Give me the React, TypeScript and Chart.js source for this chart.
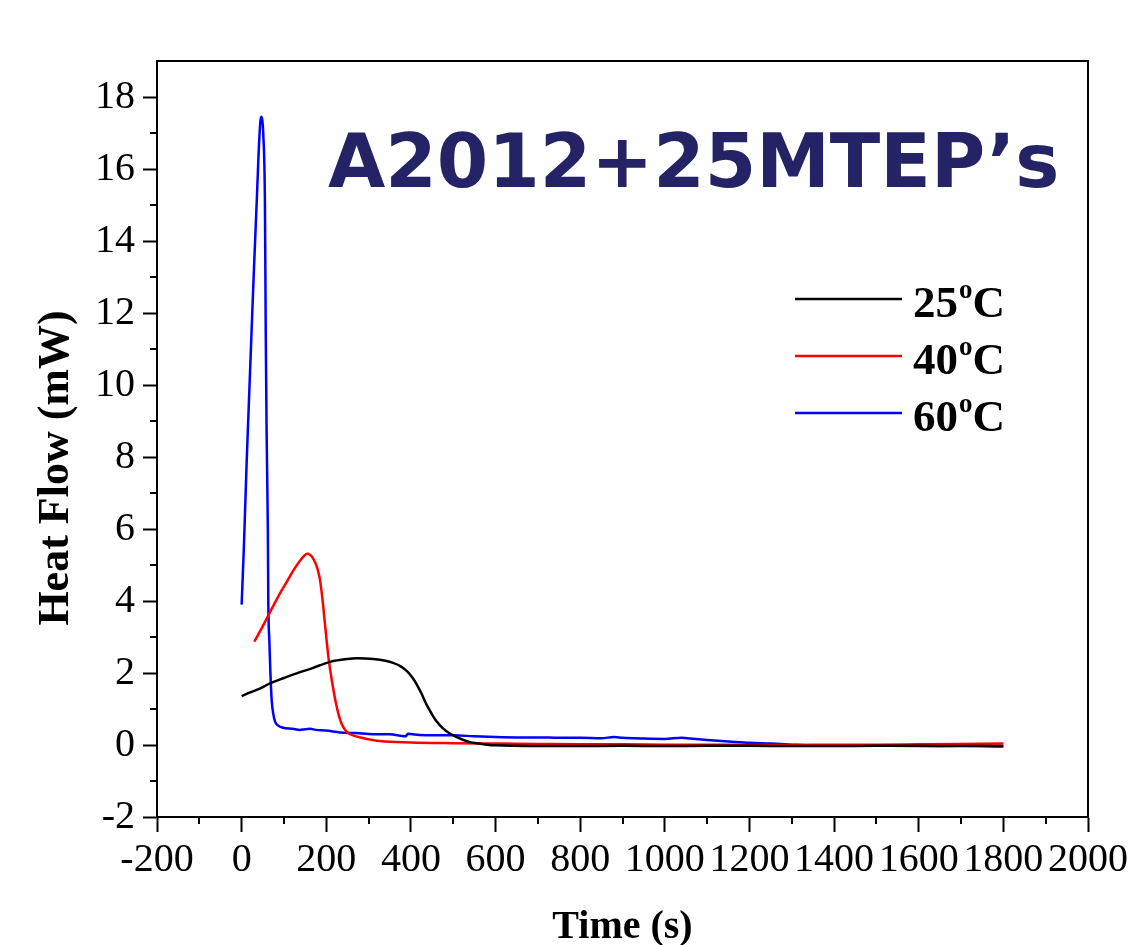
import React, { useEffect, useRef } from "react";
import { Chart, registerables } from "chart.js";

Chart.register(...registerables);

// ---------- data ----------
const seriesLabels = ["25ºC", "40ºC", "60ºC"];
const seriesColors = ["#000000", "#ff0000", "#0000ff"];

const time25 = [0, 20, 40, 67, 100, 130, 166, 209, 250, 272, 311, 340, 358, 375, 390, 403, 414, 425, 437, 450, 461, 475, 492, 510, 524, 540, 556, 580, 600, 700, 800, 900, 1000, 1100, 1200, 1300, 1400, 1500, 1600, 1700, 1800];
const heat25 = [1.36, 1.46, 1.55, 1.71, 1.86, 1.99, 2.13, 2.31, 2.39, 2.41, 2.39, 2.34, 2.28, 2.19, 2.06, 1.88, 1.68, 1.43, 1.12, 0.85, 0.65, 0.47, 0.32, 0.21, 0.14, 0.08, 0.05, 0.01, -0.01, -0.03, -0.03, -0.02, -0.03, -0.02, -0.02, -0.03, -0.03, -0.02, -0.02, -0.03, -0.03];

const time40 = [30, 50, 70, 90, 110, 125, 138, 148, 155, 162, 168, 174, 180, 185, 191, 197, 205, 211, 217, 223, 229, 237, 248, 265, 288, 327, 400, 500, 600, 700, 800, 900, 1000, 1100, 1200, 1300, 1400, 1500, 1600, 1700, 1800];
const heat40 = [2.87, 3.3, 3.76, 4.2, 4.6, 4.9, 5.12, 5.26, 5.31, 5.28, 5.2, 5.06, 4.86, 4.6, 4.05, 3.35, 2.45, 1.95, 1.53, 1.15, 0.85, 0.57, 0.37, 0.26, 0.19, 0.11, 0.07, 0.05, 0.04, 0.03, 0.02, 0.02, 0.01, 0.01, 0.0, 0.0, 0.01, 0.01, 0.02, 0.03, 0.04];

const time60 = [0, 5, 12, 20, 28, 36, 42, 46, 49, 51, 55, 57, 59, 62, 63, 65.5, 68, 71, 75, 79, 85, 98, 120, 138, 150, 162, 175, 200, 232, 270, 311, 350, 386, 390, 393, 420, 450, 500, 550, 600, 650, 700, 750, 800, 850, 880, 900, 950, 1000, 1040, 1060, 1100, 1150, 1200, 1250, 1300, 1350, 1400, 1500, 1600, 1700, 1800];
const heat60 = [3.9, 5.4, 7.9, 10.4, 12.9, 15.2, 16.9, 17.45, 17.35, 17.0, 15.1, 11.4, 8.7, 5.9, 4.0, 2.9, 2.0, 1.25, 0.85, 0.65, 0.55, 0.48, 0.45, 0.42, 0.44, 0.45, 0.42, 0.4, 0.35, 0.33, 0.3, 0.3, 0.24, 0.27, 0.31, 0.28, 0.27, 0.27, 0.24, 0.22, 0.21, 0.21, 0.2, 0.2, 0.19, 0.22, 0.2, 0.18, 0.17, 0.2, 0.18, 0.14, 0.1, 0.06, 0.04, 0.01, -0.01, -0.01, -0.02, -0.03, -0.02, -0.04];

const xRange = [-200, 2000];
const xMajorStep = 200;
const xMinorStep = 100;
const yRange = [-2, 19];
const yMajorStep = 2;
const yMinorStep = 1;

const chartTitle = "A2012+25MTEP’s";
const xTitle = "Time (s)";
const yTitle = "Heat Flow (mW)";

const seriesTimes = [time25, time40, time60];
const seriesHeats = [heat25, heat40, heat60];

// ---------- layout ----------
const CANVAS_W = 1132;
const CANVAS_H = 990;
const PLOT_LEFT = 157;
const PLOT_TOP = 61;
const PLOT_RIGHT = 1088;
const PLOT_BOTTOM = 817;

const serif = "'Liberation Serif', 'Times New Roman', serif";

const decorPlugin = {
  id: "decor",
  afterDraw(chart: any) {
    const { ctx, chartArea } = chart;
    const xs = chart.scales.x;
    const ys = chart.scales.y;
    ctx.save();
    // frame: top and right
    ctx.strokeStyle = "#000";
    ctx.lineWidth = 2;
    ctx.beginPath();
    ctx.moveTo(chartArea.left, chartArea.top);
    ctx.lineTo(chartArea.right, chartArea.top);
    ctx.lineTo(chartArea.right, chartArea.bottom);
    ctx.stroke();
    // minor ticks
    ctx.beginPath();
    for (let v = xRange[0] + xMinorStep; v < xRange[1]; v += xMajorStep) {
      const px = Math.round(xs.getPixelForValue(v));
      ctx.moveTo(px, chartArea.bottom);
      ctx.lineTo(px, chartArea.bottom + 7);
    }
    for (let v = yRange[0] + yMinorStep; v < yRange[1]; v += yMajorStep) {
      const py = Math.round(ys.getPixelForValue(v));
      ctx.moveTo(chartArea.left - 7, py);
      ctx.lineTo(chartArea.left, py);
    }
    ctx.stroke();

    // y-axis title
    ctx.fillStyle = "#000";
    ctx.font = `bold 44px ${serif}`;
    ctx.textAlign = "center";
    ctx.textBaseline = "alphabetic";
    ctx.translate(68, 468);
    ctx.rotate(-Math.PI / 2);
    ctx.fillText(yTitle, 0, 0);
    ctx.setTransform(1, 0, 0, 1, 0, 0);

    // big in-plot title
    ctx.fillStyle = "#232366";
    ctx.font = "bold 74px 'DejaVu Sans', Verdana, sans-serif";
    ctx.textAlign = "left";
    ctx.fillText(chartTitle, 328, 187);

    // legend
    const datasets = chart.data.datasets;
    datasets.forEach((ds: any, i: number) => {
      const ly = 299 + i * 57;
      ctx.strokeStyle = ds.borderColor;
      ctx.lineWidth = 2.5;
      ctx.beginPath();
      ctx.moveTo(795, ly);
      ctx.lineTo(902, ly);
      ctx.stroke();
      const parts = String(ds.label).split("º");
      const base = ly + 18;
      let x = 913;
      ctx.fillStyle = "#000";
      ctx.textAlign = "left";
      ctx.font = `bold 45px ${serif}`;
      ctx.fillText(parts[0], x, base);
      x += ctx.measureText(parts[0]).width;
      if (parts.length > 1) {
        ctx.font = `bold 27px ${serif}`;
        ctx.fillText("o", x + 1, ly - 1);
        x += ctx.measureText("o").width + 1;
        ctx.font = `bold 45px ${serif}`;
        ctx.fillText(parts[1], x, base);
      }
    });
    ctx.restore();
  },
};

export default function App() {
  const canvasRef = useRef<HTMLCanvasElement | null>(null);

  useEffect(() => {
    if (!canvasRef.current) return;
    const datasets = seriesLabels.map((label, i) => ({
      label,
      data: seriesTimes[i].map((t, j) => ({ x: t, y: seriesHeats[i][j] })),
      borderColor: seriesColors[i],
      backgroundColor: seriesColors[i],
      borderWidth: 2.5,
      pointRadius: 0,
      cubicInterpolationMode: "monotone" as const,
      fill: false,
    }));

    const chart = new Chart(canvasRef.current, {
      type: "line",
      data: { datasets },
      plugins: [decorPlugin],
      options: {
        responsive: false,
        animation: false,
        devicePixelRatio: 1,
        layout: {
          padding: { left: 0, top: PLOT_TOP, right: CANVAS_W - PLOT_RIGHT, bottom: 0 },
        },
        plugins: {
          legend: { display: false },
          tooltip: { enabled: false },
        },
        scales: {
          x: {
            type: "linear",
            min: xRange[0],
            max: xRange[1],
            afterFit: (s: any) => {
              s.height = CANVAS_H - PLOT_BOTTOM;
            },
            ticks: {
              stepSize: xMajorStep,
              autoSkip: false,
              maxRotation: 0,
              includeBounds: false,
              padding: 4,
              color: "#000",
              font: { family: serif, size: 40 },
              callback: (v: any) => String(v),
            },
            grid: {
              drawOnChartArea: false,
              drawTicks: true,
              tickLength: 15,
              tickWidth: 2,
              tickColor: "#000",
            },
            border: { display: true, color: "#000", width: 2 },
            title: {
              display: true,
              text: xTitle,
              color: "#000",
              font: { family: serif, size: 40, weight: "bold" },
              padding: { top: 0, bottom: 38 },
            },
          },
          y: {
            type: "linear",
            min: yRange[0],
            max: yRange[1],
            afterFit: (s: any) => {
              s.width = PLOT_LEFT;
            },
            ticks: {
              stepSize: yMajorStep,
              autoSkip: false,
              includeBounds: false,
              padding: 8,
              color: "#000",
              font: { family: serif, size: 40 },
              callback: (v: any) => String(v),
            },
            grid: {
              drawOnChartArea: false,
              drawTicks: true,
              tickLength: 14,
              tickWidth: 2,
              tickColor: "#000",
            },
            border: { display: true, color: "#000", width: 2 },
          },
        },
      },
    });
    return () => chart.destroy();
  }, []);

  return (
    <div
      style={{
        position: "fixed",
        left: 0,
        top: 0,
        width: CANVAS_W,
        height: 945,
        overflow: "hidden",
        background: "#fff",
      }}
    >
      <canvas
        ref={canvasRef}
        width={CANVAS_W}
        height={CANVAS_H}
        style={{ width: CANVAS_W, height: CANVAS_H, display: "block" }}
      />
    </div>
  );
}
